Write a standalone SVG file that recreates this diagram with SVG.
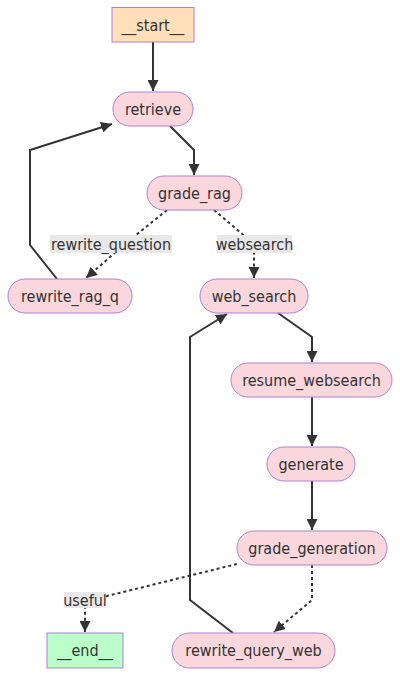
<svg xmlns="http://www.w3.org/2000/svg" width="400" height="676" viewBox="0 0 400 676">
<defs>
<marker id="arr" viewBox="0 0 10 10" refX="10" refY="5" markerWidth="5.5" markerHeight="5.5" markerUnits="strokeWidth" orient="auto">
<path d="M0,0 L10,5 L0,10 z" fill="#333"/>
</marker>
<style>
.n rect{fill:#f9d7dd;stroke:#ad7fd4;stroke-width:1}
.n text,.lbl text{font-family:"DejaVu Sans Condensed","DejaVu Sans",sans-serif;font-stretch:condensed;font-size:16px;fill:#333;text-anchor:middle;dominant-baseline:central}
.e{fill:none;stroke:#333;stroke-width:2;marker-end:url(#arr)}
.d{stroke-dasharray:3 3}
.lbl rect{fill:#e8e8e8}
</style>
</defs>
<rect width="400" height="676" fill="#fff"/>
<g id="connectors">
<path class="e" d="M153,42 V91"/>
<path class="e" d="M170,126 L194,150 V175"/>
<path class="e" d="M57,279 L30,245 V150 L112,124"/>
<path class="e d" d="M167,210 L125,244 L86,278"/>
<path class="e d" d="M214,210 L254,244 V278"/>
<path class="e" d="M278,313 L312,337 V362"/>
<path class="e" d="M312,397 V446"/>
<path class="e" d="M312,481 V530"/>
<path class="e d" d="M237,564 L107,596 L85,600 V632"/>
<path class="e d" d="M312,565 V600 L274,632"/>
<path class="e" d="M233,633 L190,600 V337 L227,314"/>
</g>
<g class="lbl" id="label-rewrite_question"><rect x="50" y="235" width="122" height="18"/><text x="111" y="244">rewrite_question</text></g>
<g class="lbl" id="label-websearch"><rect x="217" y="235" width="75" height="18"/><text x="254.5" y="244">websearch</text></g>
<g class="lbl" id="label-useful"><rect x="64" y="592" width="42" height="16"/><text x="85" y="600">useful</text></g>
<g class="n" id="node-start"><rect x="112" y="7.5" width="82" height="34.5" style="fill:#ffdfba"/><text x="153" y="25">__start__</text></g>
<g class="n" id="node-retrieve"><rect x="113" y="92" width="80" height="34" rx="17"/><text x="153" y="109">retrieve</text></g>
<g class="n" id="node-grade_rag"><rect x="147" y="176" width="95" height="34" rx="17"/><text x="194.5" y="193">grade_rag</text></g>
<g class="n" id="node-rewrite_rag_q"><rect x="8" y="279" width="124" height="34" rx="17"/><text x="70" y="296">rewrite_rag_q</text></g>
<g class="n" id="node-web_search"><rect x="200" y="279" width="108" height="34" rx="17"/><text x="254" y="296">web_search</text></g>
<g class="n" id="node-resume_websearch"><rect x="231" y="363" width="161" height="34" rx="17"/><text x="311.5" y="380">resume_websearch</text></g>
<g class="n" id="node-generate"><rect x="267" y="447" width="88" height="34" rx="17"/><text x="311" y="464">generate</text></g>
<g class="n" id="node-grade_generation"><rect x="237" y="531" width="150" height="34" rx="17"/><text x="312" y="548">grade_generation</text></g>
<g class="n" id="node-rewrite_query_web"><rect x="172" y="633" width="163" height="35" rx="17.5"/><text x="253.5" y="650.5">rewrite_query_web</text></g>
<g class="n" id="node-end"><rect x="47" y="633" width="76" height="35" style="fill:#baffc9"/><text x="85" y="650.5">__end__</text></g>
</svg>
